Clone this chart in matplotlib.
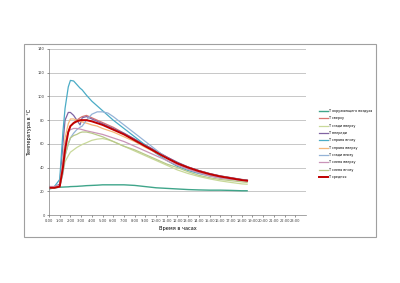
import numpy as np
import matplotlib.pyplot as plt
from matplotlib.patches import Rectangle

# hours of measurement
hours = [0, 0.5, 1.0, 1.3, 1.5, 1.8, 2.0, 2.3, 2.6, 2.9, 3.1, 3.5, 4.0, 4.5, 5.0, 5.5,
         6, 7, 8, 9, 10, 11, 12, 13, 14, 15, 16, 17, 18, 18.5]

t_air = [22, 23, 23.5, 23.6, 23.7, 23.8, 24, 24.1, 24.2, 24.4, 24.5, 24.8, 25, 25.2, 25.5, 25.5,
         25.5, 25.5, 25, 24, 23, 22.5, 22, 21.5, 21.2, 21, 21, 20.8, 20.5, 20.5]
t_top = [23, 23, 25, 40, 60, 70, 75, 78, 80, 82, 83, 84, 82, 80, 78, 76,
         74, 69, 64, 59, 54, 49, 44, 40.5, 37.5, 35, 33, 31.5, 30, 29.5]
t_back_up = [23, 23, 24, 35, 45, 50, 53, 55, 57, 58.5, 59.5, 61, 63, 64, 64.5, 63.5,
             62, 58, 54, 50, 46, 42, 38, 35, 32.5, 30.5, 28.8, 27.5, 26.3, 26]
t_front = [24, 24, 26, 60, 80, 86.5, 86.5, 84, 80, 76, 82, 83, 81, 79, 77, 75,
           73, 69, 64, 59, 54, 49, 44.5, 40.5, 37.5, 35, 33, 31.5, 30, 29.5]
t_right_down = [24, 24, 30, 70, 90, 108, 113.5, 113, 110, 107, 105.5, 101, 96, 92, 88, 84,
                80, 73, 66, 59, 52, 46, 41, 37.5, 35, 33, 31.5, 30.5, 29.5, 29]
t_right_up = [24, 24, 25, 45, 65, 77, 81, 81, 80, 79, 78.5, 77.5, 76, 75, 73, 71.5,
              70, 66, 62, 57, 52.5, 48, 43.5, 40, 37, 34.5, 32.5, 31, 29.5, 29]
t_back_down = [23, 23, 24, 35, 50, 60, 65, 69, 72, 74, 75, 80, 85, 87, 87, 86,
               83, 76, 69, 62, 55, 48, 43, 39, 36, 33.5, 31.5, 30.5, 29.5, 29]
t_left_up = [24, 24, 25, 45, 60, 70, 72, 73, 73, 72.5, 72, 71, 70, 69, 68, 66.5,
             65, 62, 58, 54, 50, 46, 42, 38.5, 35.5, 33, 31, 30, 29, 28.5]
t_left_down = [23, 23, 24, 38, 50, 60, 65, 67, 68, 69.5, 70, 70, 69, 67.5, 66, 64,
               62, 58, 55, 51, 47, 43, 40, 36.5, 33.5, 31.5, 30, 29, 28, 27.5]
t_mean = [23, 23, 24, 40, 55, 70, 75, 77.5, 79, 80, 80, 80, 79, 77.5, 76, 74,
          72, 68, 63, 58, 53, 48, 43.5, 40, 37, 34.5, 32.5, 31, 29.5, 29]

series = [
    ('T окружающего воздуха', t_air, '#3fa58a', 1.0),
    ('T сверху', t_top, '#d9736f', 0.9),
    ('T сзади вверху', t_back_up, '#c9d99a', 0.9),
    ('T впереди', t_front, '#8064a2', 0.9),
    ('T справа внизу', t_right_down, '#4bacc6', 0.9),
    ('T справа вверху', t_right_up, '#f5b77a', 0.9),
    ('T сзади внизу', t_back_down, '#95b3d7', 0.9),
    ('T слева вверху', t_left_up, '#c994b8', 0.9),
    ('T слева внизу', t_left_down, '#b9c98a', 0.9),
    ('T средняя', t_mean, '#c00000', 1.4),
]

tick_hours = list(range(24))
tick_labels = ['%d:00' % h for h in tick_hours]

fig = plt.figure(figsize=(4.0, 2.83), dpi=100)
fig.patches.append(Rectangle((0.06, 0.1625), 0.88, 0.682, transform=fig.transFigure,
                             fill=False, edgecolor='#a0a0a0', linewidth=0.8))

ax = fig.add_axes([0.1225, 0.24, 0.6425, 0.587])
for name, vals, col, lw in series:
    ax.plot(hours, vals, color=col, linewidth=lw, label=name)

ax.set_xlim(0, 24)
ax.set_ylim(0, 140)
ax.set_yticks(range(0, 141, 20))
ax.set_xticks(tick_hours)
ax.set_xticklabels(tick_labels)
ax.tick_params(labelsize=2.6, length=1.5, width=0.4, pad=1.5, colors='#404040')
ax.grid(axis='y', color='#b0b0b0', linewidth=0.5)
for s in ['top', 'right']:
    ax.spines[s].set_visible(False)
for s in ['left', 'bottom']:
    ax.spines[s].set_color('#808080')
    ax.spines[s].set_linewidth(0.5)
ax.set_xlabel('Время в часах', fontsize=3.6, labelpad=2)
ax.set_ylabel('Температура в °С', fontsize=3.6, labelpad=4)

fig.legend(loc='upper left', bbox_to_anchor=(0.79, 0.625), fontsize=2.4, frameon=False,
           handlelength=2.8, labelspacing=1.0, handletextpad=0.3)

fig.savefig('out.png', dpi=100)
